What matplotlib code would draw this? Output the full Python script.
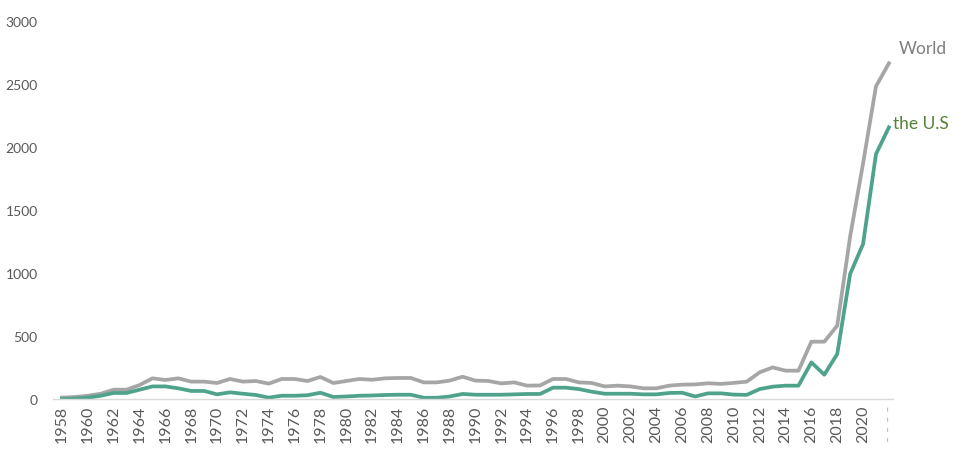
import matplotlib
matplotlib.use("Agg")
import matplotlib.pyplot as plt
import numpy as np

# Yearly values (1958-2022)
years = list(range(1958, 2023))

world = [
    11, 16, 26, 42, 74, 74, 111, 164, 151, 164,        # 1958-1967
    138, 138, 127, 159, 138, 143, 122, 159, 159, 143,  # 1968-1977
    175, 127, 143, 159, 153, 164, 167, 167, 132, 132,  # 1978-1987
    146, 177, 146, 143, 124, 132, 106, 108, 159, 159,  # 1988-1997
    132, 127, 100, 106, 100, 85, 85, 106, 114, 116,    # 1998-2007
    125, 120, 128, 138, 212, 251, 225, 225, 455, 455,  # 2008-2017
    582, 1290, 1870, 2482, 2664,                       # 2018-2022
]

us = [
    0, 3, 11, 26, 48, 48, 74, 100, 100, 85,            # 1958-1967
    64, 64, 37, 53, 42, 32, 11, 26, 26, 30,            # 1968-1977
    50, 16, 20, 26, 28, 32, 34, 34, 10, 10,            # 1978-1987
    20, 40, 34, 34, 34, 37, 40, 40, 90, 90,            # 1988-1997
    79, 58, 42, 42, 42, 37, 37, 48, 50, 20,            # 1998-2007
    45, 45, 35, 33, 79, 98, 106, 106, 291, 193,        # 2008-2017
    357, 992, 1230, 1944, 2156,                        # 2018-2022
]

tick_years = list(range(1958, 2021, 2))
tick_labels = [str(y) for y in tick_years]

WORLD_COLOR = "#A6A6A6"
US_COLOR = "#4FA38D"
TEXT_COLOR = "#595959"

plt.rcParams["font.family"] = ["Lato", "DejaVu Sans"]

fig = plt.figure(figsize=(9.72, 4.60), dpi=100)
ax = fig.add_axes([0.0545, 0.1304, 0.864, 0.8218])

ax.plot(years, world, color=WORLD_COLOR, linewidth=2.7, solid_joinstyle="round")
ax.plot(years, us, color=US_COLOR, linewidth=2.7, solid_joinstyle="round")

ax.set_xlim(1957.3, 2022.3)
ax.set_ylim(0, 3000)
ax.set_yticks(np.arange(0, 3001, 500))

ax.set_xticks(tick_years + [2022])
ax.set_xticklabels(tick_labels + ["- - - -"], rotation=90, fontsize=11.5, color=TEXT_COLOR)
ax.get_xticklabels()[-1].set_color("#CDB89E")

ax.tick_params(axis="y", length=0, pad=11, labelsize=10, labelcolor=TEXT_COLOR)
ax.tick_params(axis="x", length=0, pad=4)

for side in ["left", "right", "top"]:
    ax.spines[side].set_visible(False)
ax.spines["bottom"].set_color("#D9D9D9")
ax.spines["bottom"].set_linewidth(1.0)

# series labels at the line ends
ax.annotate("World", (years[-1], world[-1]), xytext=(7, 11), textcoords="offset points",
            fontsize=12.5, color="#7F7F7F", ha="left", va="center")
ax.annotate("the U.S", (years[-1], us[-1]), xytext=(3, 3), textcoords="offset points",
            fontsize=12.5, color="#548235", ha="left", va="center")

fig.savefig("out.png", dpi=100)
